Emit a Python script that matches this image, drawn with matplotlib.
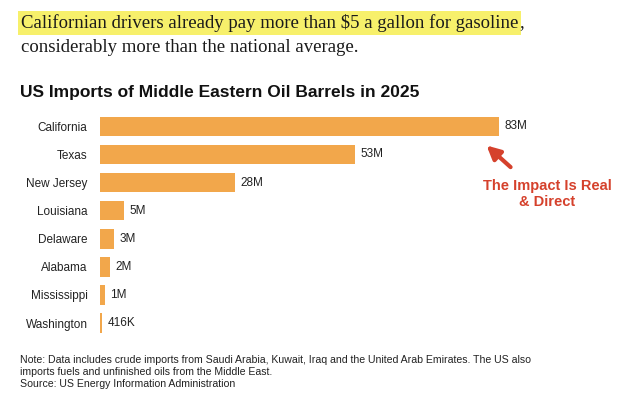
import matplotlib.pyplot as plt

states = ['California', 'Texas', 'New Jersey', 'Louisiana', 'Delaware',
          'Alabama', 'Mississippi', 'Washington']
barrels_m = [83, 53, 28, 5, 3, 2, 1, 0.416]
value_labels = ['83M', '53M', '28M', '5M', '3M', '2M', '1M', '416K']

bar_color = '#f2a74b'
red = '#d5412c'

fig = plt.figure(figsize=(6.24, 3.97), dpi=100)
fig.patch.set_facecolor('white')

# headline (serif, first part highlighted)
hl = fig.text(21 / 624, 1 - 23 / 397,
              'Californian drivers already pay more than $5 a gallon for gasoline',
              family='Liberation Serif', fontsize=13.5, color='#1a1a1a', va='center',
              bbox=dict(boxstyle='square,pad=0.15', fc='#f7f06b', ec='none'))
fig.canvas.draw()
bb = hl.get_window_extent()
fig.text(bb.x1 / fig.bbox.width + 0.002, 1 - 23 / 397, ',', family='Liberation Serif',
         fontsize=13.5, color='#1a1a1a', va='center')
fig.text(21 / 624, 1 - 48 / 397, 'considerably more than the national average.',
         family='Liberation Serif', fontsize=13.5, color='#1a1a1a', va='center')

fig.text(20 / 624, 1 - 92 / 397, 'US Imports of Middle Eastern Oil Barrels in 2025',
         family='Liberation Sans', fontsize=12.5, weight='bold', color='#111111',
         va='center')

ax = fig.add_axes([100 / 624, 0.151, 500 / 624, 0.566])
y = list(range(len(states)))
ax.barh(y, barrels_m, height=0.7, color=bar_color)
ax.set_xlim(0, 104)
ax.set_ylim(len(states) - 0.5, -0.5)
ax.set_yticks(y)
ax.set_yticklabels(states, family='Liberation Sans', fontsize=8.5, color='#222222')
ax.tick_params(axis='y', length=0, pad=9)
ax.set_xticks([])
for s in ax.spines.values():
    s.set_visible(False)

for yi, v, lab in zip(y, barrels_m, value_labels):
    ax.annotate(lab, (v, yi), xytext=(4, 0), textcoords='offset points',
                va='center', ha='left', family='Liberation Sans', fontsize=8.5,
                color='#222222')

# callout
ax.annotate('', xy=(80.4, 0.68), xytext=(85.4, 1.45),
            arrowprops=dict(arrowstyle='-|>', color=red, lw=3,
                            mutation_scale=20, shrinkA=0, shrinkB=0))
ax.text(93.0, 2.4, 'The Impact Is Real\n& Direct', ha='center', va='center',
        color=red, weight='bold', family='Liberation Sans', fontsize=10.5,
        linespacing=1.2)

fig.text(20 / 624, 1 - 372 / 397,
         'Note: Data includes crude imports from Saudi Arabia, Kuwait, Iraq and the United Arab Emirates. The US also\n'
         'imports fuels and unfinished oils from the Middle East.\n'
         'Source: US Energy Information Administration',
         family='Liberation Sans', fontsize=7.6, color='#222222', va='center',
         linespacing=1.2)

fig.savefig('out.png', dpi=100, facecolor='white')
